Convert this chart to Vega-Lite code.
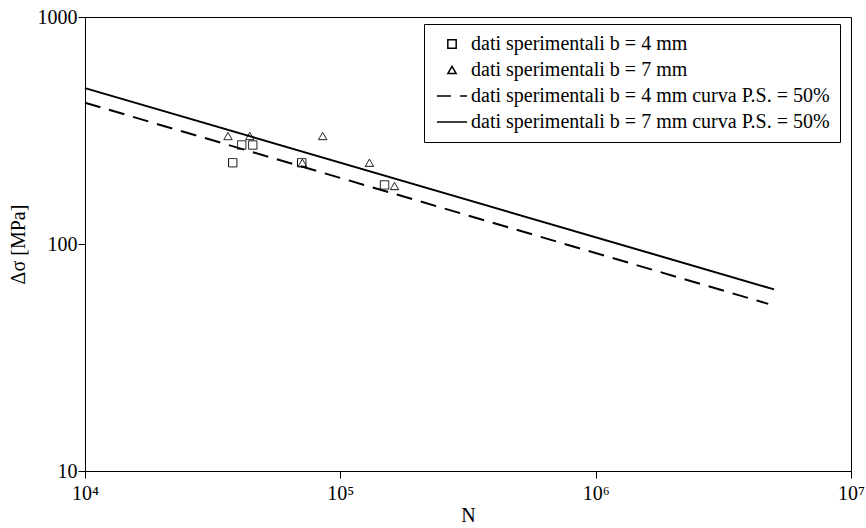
{
  "$schema": "https://vega.github.io/schema/vega-lite/v6.json",
  "width": 766,
  "height": 454,
  "autosize": {"type": "none"},
  "padding": {"left": 85, "top": 17, "right": 15, "bottom": 57},
  "background": "white",
  "config": {
    "view": {"stroke": "black", "strokeWidth": 1},
    "font": "Liberation Serif",
    "axis": {
      "grid": false,
      "domainColor": "black",
      "tickColor": "black",
      "tickSize": 7,
      "labelFont": "Liberation Serif",
      "labelFontSize": 20,
      "labelColor": "black",
      "titleFont": "Liberation Serif",
      "titleFontSize": 20,
      "titleFontWeight": "normal",
      "titleColor": "black",
      "labelOverlap": false,
      "labelBound": false,
      "labelFlush": false
    },
    "legend": {"labelFont": "Liberation Serif"}
  },
  "data": {
    "values": [
      {"series": "dati sperimentali b = 4 mm", "N": 37900, "sigma": 228},
      {"series": "dati sperimentali b = 4 mm", "N": 41100, "sigma": 273},
      {"series": "dati sperimentali b = 4 mm", "N": 45400, "sigma": 273},
      {"series": "dati sperimentali b = 4 mm", "N": 70600, "sigma": 228},
      {"series": "dati sperimentali b = 4 mm", "N": 149000, "sigma": 182},
      {"series": "dati sperimentali b = 7 mm", "N": 36300, "sigma": 299},
      {"series": "dati sperimentali b = 7 mm", "N": 44200, "sigma": 299},
      {"series": "dati sperimentali b = 7 mm", "N": 85300, "sigma": 299},
      {"series": "dati sperimentali b = 7 mm", "N": 71000, "sigma": 228},
      {"series": "dati sperimentali b = 7 mm", "N": 130000, "sigma": 228},
      {"series": "dati sperimentali b = 7 mm", "N": 163000, "sigma": 180},
      {"series": "dati sperimentali b = 4 mm curva P.S. = 50%", "N": 10000, "sigma": 419},
      {"series": "dati sperimentali b = 4 mm curva P.S. = 50%", "N": 4740000, "sigma": 54.5},
      {"series": "dati sperimentali b = 7 mm curva P.S. = 50%", "N": 10000, "sigma": 486},
      {"series": "dati sperimentali b = 7 mm curva P.S. = 50%", "N": 5000000, "sigma": 63.1}
    ]
  },
  "encoding": {
    "x": {
      "field": "N",
      "type": "quantitative",
      "scale": {"type": "log", "domain": [10000, 10000000]},
      "axis": {
        "values": [10000, 100000, 1000000, 10000000],
        "labelExpr": "'10' + ['⁰','¹','²','³','⁴','⁵','⁶','⁷'][round(log(datum.value)/LN10)]",
        "title": "N",
        "labelPadding": 5,
        "titlePadding": 2
      }
    },
    "y": {
      "field": "sigma",
      "type": "quantitative",
      "scale": {"type": "log", "domain": [10, 1000]},
      "axis": {
        "values": [10, 100, 1000],
        "labelExpr": "format(datum.value, 'd')",
        "title": "Δσ [MPa]",
        "labelPadding": 1,
        "titlePadding": 9
      }
    }
  },
  "layer": [
    {
      "transform": [{"filter": {"field": "series", "equal": "dati sperimentali b = 4 mm curva P.S. = 50%"}}],
      "mark": {"type": "line", "color": "black", "strokeWidth": 2, "strokeDash": [16, 9]}
    },
    {
      "transform": [{"filter": {"field": "series", "equal": "dati sperimentali b = 7 mm curva P.S. = 50%"}}],
      "mark": {"type": "line", "color": "black", "strokeWidth": 2}
    },
    {
      "transform": [{"filter": {"field": "series", "oneOf": ["dati sperimentali b = 4 mm", "dati sperimentali b = 7 mm"]}}],
      "mark": {"type": "point", "filled": false, "color": "black", "strokeWidth": 1, "size": 70, "opacity": 1},
      "encoding": {
        "shape": {
          "field": "series",
          "type": "nominal",
          "scale": {
            "domain": ["dati sperimentali b = 4 mm", "dati sperimentali b = 7 mm", "dati sperimentali b = 4 mm curva P.S. = 50%", "dati sperimentali b = 7 mm curva P.S. = 50%"],
            "range": ["square", "triangle-up", "M-3.6,0H3.6", "M-3.6,0H3.6"]
          },
          "legend": {
            "title": null,
            "orient": "none",
            "legendX": 339,
            "legendY": 7,
            "direction": "vertical",
            "fillColor": "white",
            "strokeColor": "black",
            "padding": 10,
            "labelFont": "Liberation Serif",
            "labelFontSize": 20,
            "labelColor": "black",
            "labelLimit": 0,
            "labelOffset": 9,
            "rowPadding": 6,
            "symbolSize": 70,
            "symbolOffset": 8,
            "symbolStrokeColor": "black",
            "encode": {"symbols": {"update": {"strokeWidth": {"signal": "indexof(['dati sperimentali b = 4 mm curva P.S. = 50%','dati sperimentali b = 7 mm curva P.S. = 50%'], datum.value) >= 0 ? 2 : 1"}}}}
          }
        },
        "strokeDash": {
          "field": "series",
          "type": "nominal",
          "scale": {
            "domain": ["dati sperimentali b = 4 mm", "dati sperimentali b = 7 mm", "dati sperimentali b = 4 mm curva P.S. = 50%", "dati sperimentali b = 7 mm curva P.S. = 50%"],
            "range": [[1, 0], [1, 0], [14, 9], [1, 0]]
          },
          "legend": {
            "title": null,
            "orient": "none",
            "legendX": 339,
            "legendY": 7,
            "direction": "vertical",
            "fillColor": "white",
            "strokeColor": "black",
            "padding": 10,
            "labelFont": "Liberation Serif",
            "labelFontSize": 20,
            "labelColor": "black",
            "labelLimit": 0,
            "labelOffset": 9,
            "rowPadding": 6,
            "symbolSize": 70,
            "symbolOffset": 8,
            "symbolStrokeColor": "black",
            "encode": {"symbols": {"update": {"strokeWidth": {"signal": "indexof(['dati sperimentali b = 4 mm curva P.S. = 50%','dati sperimentali b = 7 mm curva P.S. = 50%'], datum.value) >= 0 ? 2 : 1"}}}}
          }
        }
      }
    }
  ]
}
